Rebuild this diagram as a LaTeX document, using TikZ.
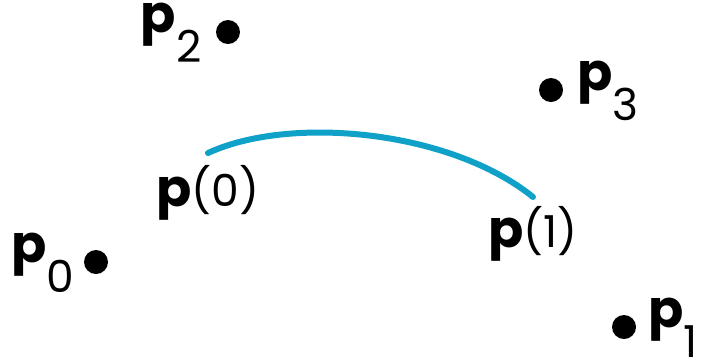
\documentclass[tikz,border=0pt]{standalone}
\usepackage{fontspec}
\setsansfont{Poppins}
\usetikzlibrary{positioning}
\definecolor{CurveClr}{rgb}{0.06,0.63,0.78}
\newcommand{\boldp}{{\fontsize{52}{52}\selectfont\bfseries p}}
\newcommand{\ctrlpt}[1]{\boldp\raisebox{-.7em}{#1}}
\newcommand{\curvept}[1]{\boldp(#1)}

\begin{document}
\begin{tikzpicture}[x=1pt,y=-1pt,
  dot/.style={circle,fill=black,inner sep=0pt,minimum size=24pt},
  lbl/.style={inner sep=0pt,font=\sffamily\fontsize{44}{44}\selectfont},
  curve/.style={line width=6pt,color=CurveClr,line cap=round}]
\useasboundingbox (0,0) rectangle (707,360);

% control points
\node[dot] (P0) at (96,262) {};
\node[dot] (P1) at (624,327) {};
\node[dot] (P2) at (228,32) {};
\node[dot] (P3) at (551,90) {};

\node[lbl,left=9pt of P0,anchor=base east] (L0) {\ctrlpt{0}};
\node[lbl,right=12pt of P1,anchor=base west] (L1) {\ctrlpt{1}};
\node[lbl,left=14pt of P2,anchor=base east] (L2) {\ctrlpt{2}};
\node[lbl,right=14pt of P3,anchor=base west] (L3) {\ctrlpt{3}};

% the curve segment
\coordinate (c0) at (208,153);
\coordinate (c1) at (533,197);
\draw[curve] (c0) .. controls (290,115) and (450,130) .. (c1);

\node[lbl,below=53pt of c0,anchor=base] (E0) {\curvept{0}};
\node[lbl,below=50pt of c1,anchor=base] (E1) {\curvept{1}};

\end{tikzpicture}
\end{document}
